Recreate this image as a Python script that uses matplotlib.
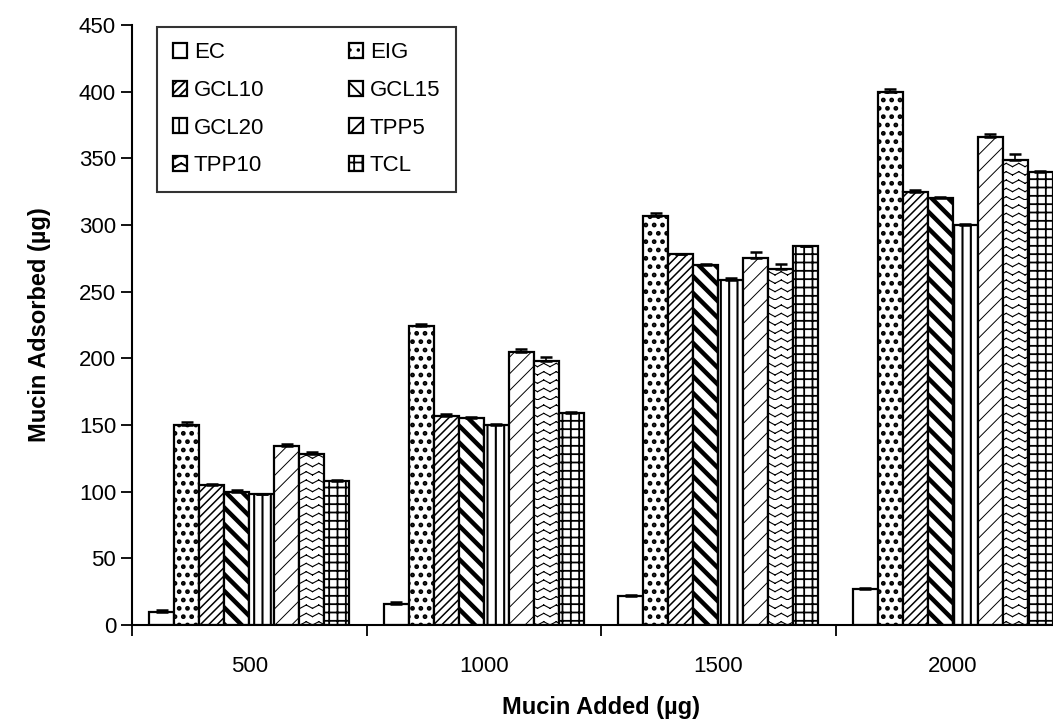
import warnings
import matplotlib.pyplot as plt
import matplotlib.hatch as mhatch
from matplotlib.path import Path
import numpy as np

warnings.filterwarnings("ignore")
plt.rcParams['font.family'] = ['Liberation Sans', 'DejaVu Sans']


# zigzag hatch ('z'), like the old Excel wave fill
# each stroke is its own move/line pair so agg does not fill the triangles
class ZigZagHatch(mhatch.HatchPatternBase):
    def __init__(self, hatch, density):
        self.num_rows = int(hatch.count('z') * density)
        self.n_seg = 16
        self.num_vertices = self.num_rows * self.n_seg * 2

    def set_vertices_and_codes(self, vertices, codes):
        steps, step = np.linspace(0.0, 1.0, self.num_rows, False, retstep=True)
        xs = np.linspace(0.0, 1.0, self.n_seg + 1)
        amp = np.where(np.arange(self.n_seg + 1) % 2 == 0, 0.0, step * 0.4)
        k = 0
        for y0 in steps:
            for i in range(self.n_seg):
                vertices[k] = (xs[i], y0 + amp[i])
                vertices[k + 1] = (xs[i + 1], y0 + amp[i + 1])
                codes[k] = Path.MOVETO
                codes[k + 1] = Path.LINETO
                k += 2


mhatch._hatch_types.append(ZigZagHatch)

groups = ["500", "1000", "1500", "2000"]
series = ["EC", "EIG", "GCL10", "GCL15", "GCL20", "TPP5", "TPP10", "TCL"]

values = {
    "EC":    [10, 16, 22, 27],
    "EIG":   [150, 224, 307, 400],
    "GCL10": [105, 157, 278, 325],
    "GCL15": [100, 155, 270, 320],
    "GCL20": [98, 150, 259, 300],
    "TPP5":  [134, 205, 275, 366],
    "TPP10": [128, 198, 267, 349],
    "TCL":   [108, 159, 284, 340],
}
errors = {
    "EC":    [1, 1, 0.5, 0.5],
    "EIG":   [2, 2, 2, 2],
    "GCL10": [1, 1, 0.5, 1],
    "GCL15": [1, 1, 1, 1],
    "GCL20": [0.5, 0.5, 1, 1],
    "TPP5":  [2, 2, 5, 2],
    "TPP10": [2, 3, 4, 4],
    "TCL":   [0.5, 0.5, 0.5, 0.5],
}
hatches = ["", "..", "////", "\\\\", "||", "//", "zz", "++"]
hatch_lw = [1, 2.2, 1.1, 3.2, 1.5, 0.7, 0.8, 1.3]

fig = plt.figure(figsize=(10.53, 7.19), dpi=100)
ax = fig.add_axes([132 / 1053, 94 / 719, 938 / 1053, 600 / 719])

x = np.arange(len(groups)) + 0.5
w = 0.1066
handles = []
for j, name in enumerate(series):
    vals = values[name]
    err = [np.zeros(len(vals)), errors[name]]
    plt.rcParams['hatch.linewidth'] = hatch_lw[j]
    b = ax.bar(x + (j - 3.5) * w, vals, w, color="white", edgecolor="black",
               linewidth=1.6, hatch=hatches[j], label=name, zorder=2)
    handles.append(b)
    ax.errorbar(x + (j - 3.5) * w, vals, yerr=err, fmt="none", ecolor="black",
                elinewidth=1.2, capsize=4, capthick=1.8, zorder=3)

ax.set_xlim(0, 4)
ax.set_ylim(0, 450)
ax.set_yticks(np.arange(0, 451, 50))
ax.set_xticks(np.arange(0, 5))
ax.set_xticklabels([])
ax.set_xticks(x, minor=True)
ax.set_xticklabels(groups, minor=True)
ax.tick_params(axis="both", which="major", length=8, width=1.3, direction="out", labelsize=16)
ax.tick_params(axis="x", which="minor", length=0, pad=22, labelsize=16)
for s in ["top", "right"]:
    ax.spines[s].set_visible(False)
for s in ["left", "bottom"]:
    ax.spines[s].set_linewidth(1.5)

ax.set_xlabel("Mucin Added (µg)", fontsize=17, fontweight="bold", labelpad=14)
ax.set_ylabel("Mucin Adsorbed (µg)", fontsize=17, fontweight="bold", labelpad=20)

# row-major order like the original legend
order = [0, 2, 4, 6, 1, 3, 5, 7]
leg = ax.legend([handles[i] for i in order], [series[i] for i in order],
                ncol=2, loc="upper left", bbox_to_anchor=(25 / 938, 0.997),
                borderaxespad=0, fontsize=16, frameon=True, fancybox=False,
                edgecolor="black", handlelength=0.65, handleheight=0.65,
                handletextpad=0.3, columnspacing=3.8, labelspacing=0.75,
                borderpad=0.7)
leg.get_frame().set_linewidth(1.5)

fig.savefig("out.png", dpi=100)
